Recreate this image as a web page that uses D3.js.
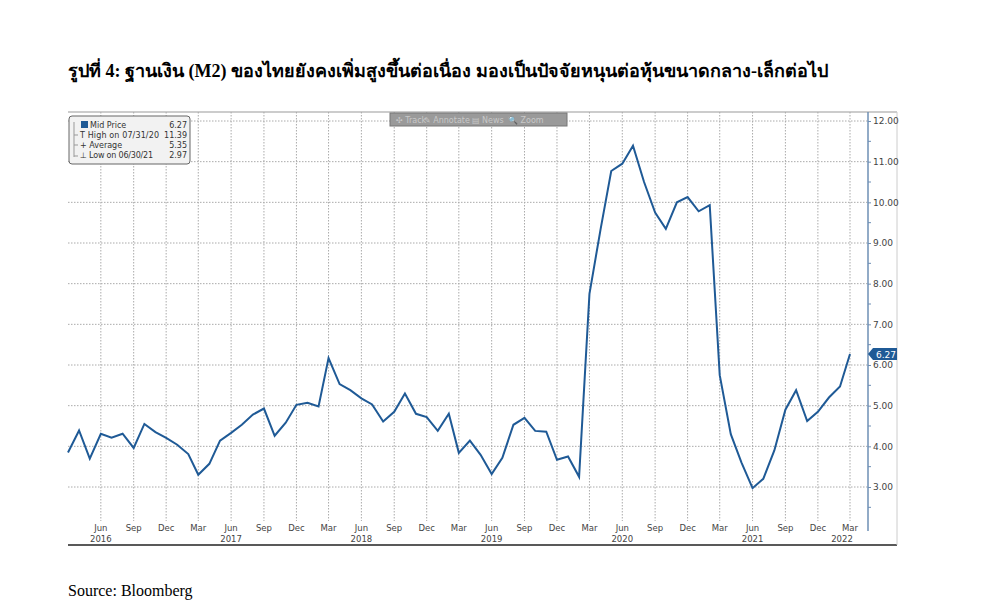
<!DOCTYPE html>
<html><head><meta charset="utf-8">
<script src="https://cdn.jsdelivr.net/npm/d3@7"></script>
<style>body{margin:0;background:#fff}svg{display:block}</style>
</head><body>
<svg id="c" width="998" height="609"></svg>
<script>
const startMonth = "2016-03";
const values = [3.85,4.39,3.70,4.31,4.21,4.31,3.96,4.55,4.35,4.21,4.04,3.81,
3.30,3.57,4.14,4.33,4.53,4.78,4.93,4.26,4.58,5.02,5.07,4.98,
6.17,5.53,5.38,5.18,5.03,4.61,4.85,5.30,4.80,4.72,4.38,4.80,
3.84,4.14,3.79,3.32,3.72,4.53,4.70,4.38,4.36,3.67,3.75,3.25,
7.75,9.33,10.77,10.95,11.39,10.50,9.75,9.35,10.00,10.13,9.78,9.93,
5.75,4.30,3.60,2.97,3.20,3.90,4.90,5.38,4.62,4.85,5.20,5.47,6.27];
const yTicks = [3,4,5,6,7,8,9,10,11,12];
const legendRows = [["Mid Price","6.27"],["High on 07/31/20","11.39"],["Average","5.35"],["Low on 06/30/21","2.97"]];
const toolbar = ["✣ Track","✎ Annotate","▤ News","🔍 Zoom"];
const title = "รูปที่ 4: ฐานเงิน (M2) ของไทยยังคงเพิ่มสูงขึ้นต่อเนื่อง มองเป็นปัจจัยหนุนต่อหุ้นขนาดกลาง-เล็กต่อไป";
const source = "Source: Bloomberg";

const svg = d3.select("#c");
const parse = d3.timeParse("%Y-%m");
const t0 = parse(startMonth);
const data = values.map((v,i)=>({d:d3.timeMonth.offset(t0,i),v}));
const x = d3.scaleTime().domain([t0, d3.timeMonth.offset(t0,72)]).range([68,850]);
const y = d3.scaleLinear().domain([3,12]).range([487,121]);
const L=68,R=868,T=112,B=521;

svg.append("text").attr("x",68).attr("y",77).attr("font-family","Liberation Serif, serif").attr("font-weight","bold").attr("font-size",18).attr("textLength",760).text(title);
svg.append("text").attr("x",68).attr("y",596).attr("font-family","Liberation Serif, serif").attr("font-size",16).text(source);

// frame
svg.append("line").attr("x1",L).attr("x2",897).attr("y1",T).attr("y2",T).attr("stroke","#999");
svg.append("line").attr("x1",L).attr("x2",897).attr("y1",545).attr("y2",545).attr("stroke","#222").attr("stroke-width",1.5);
svg.append("line").attr("x1",897).attr("x2",897).attr("y1",T).attr("y2",545).attr("stroke","#ccc");

// grid
const qMonths = d3.timeMonth.range(d3.timeMonth.offset(t0,1), d3.timeMonth.offset(t0,73)).filter(d=>[2,5,8,11].includes(d.getMonth()));
svg.append("g").selectAll("line").data(qMonths).join("line")
 .attr("x1",d=>x(d)).attr("x2",d=>x(d)).attr("y1",T).attr("y2",B)
 .attr("stroke","#aaa").attr("stroke-dasharray","1.5,1.5");
svg.append("g").selectAll("line").data(yTicks).join("line")
 .attr("x1",L).attr("x2",R).attr("y1",d=>y(d)).attr("y2",d=>y(d))
 .attr("stroke","#aaa").attr("stroke-dasharray","1.5,1.5");

// right axis
const ax = svg.append("g").attr("transform",`translate(${R},0)`)
 .call(d3.axisRight(y).tickValues(yTicks).tickFormat(d3.format(".2f")).tickSize(3));
ax.select(".domain").attr("d",`M0,${T}V${B+10}`).attr("stroke","#6e8fb5").attr("stroke-width",1.5);
ax.selectAll("text").attr("font-family","Tahoma, DejaVu Sans, sans-serif").attr("font-size",9).attr("fill","#444").attr("x",5);
ax.selectAll("line").attr("stroke","#6e8fb5");
svg.append("g").selectAll("line").data(d3.range(2.5,12.5,1)).join("line")
 .attr("x1",R).attr("x2",R+3).attr("y1",d=>y(d)).attr("y2",d=>y(d)).attr("stroke","#6e8fb5");

// x labels
const mf = d3.timeFormat("%b");
svg.append("g").selectAll("text").data(qMonths).join("text")
 .attr("x",d=>x(d)).attr("y",531).attr("text-anchor","middle")
 .attr("font-family","Tahoma, DejaVu Sans, sans-serif").attr("font-size",8.5).attr("fill","#444").text(d=>mf(d));
svg.append("g").selectAll("text").data(qMonths.filter(d=>d.getMonth()===5 || (d.getMonth()===2 && d.getFullYear()===2022))).join("text")
 .attr("x",d=>d.getMonth()===2?x(d)-8:x(d)).attr("y",542).attr("text-anchor","middle")
 .attr("font-family","Tahoma, DejaVu Sans, sans-serif").attr("font-size",8.5).attr("fill","#444").text(d=>d.getFullYear());

// line
svg.append("path").datum(data).attr("fill","none").attr("stroke","#1f5a96").attr("stroke-width",2)
 .attr("d",d3.line().x(d=>x(d.d)).y(d=>y(d.v)));

// last value tag
const lv = values[values.length-1];
svg.append("path").attr("d",`M${R},${y(lv)} l5,-6 h24 v12 h-24 z`).attr("fill","#1f5a96");
svg.append("text").attr("x",R+8).attr("y",y(lv)+3.5).attr("fill","#fff").attr("font-family","Tahoma, DejaVu Sans, sans-serif").attr("font-size",9).text(d3.format(".2f")(lv));

// toolbar
svg.append("rect").attr("x",390).attr("y",113).attr("width",177).attr("height",13).attr("fill","#9a9a9a").attr("stroke","#777");
svg.append("g").selectAll("text").data(toolbar).join("text")
 .attr("x",(d,i)=>[396,424,472,508][i]).attr("y",123).attr("font-family","Tahoma, DejaVu Sans, sans-serif").attr("font-size",8).attr("fill","#c8c8c8").text(d=>d);

// legend
svg.append("rect").attr("x",69).attr("y",116).attr("width",121).attr("height",48).attr("rx",3).attr("fill","#f2f2f2").attr("stroke","#666");
svg.append("rect").attr("x",81).attr("y",121).attr("width",7).attr("height",7).attr("fill","#1f5a96");
const lg = svg.append("g").attr("font-family","Tahoma, DejaVu Sans, sans-serif").attr("font-size",8).attr("fill","#333");
lg.selectAll(".n").data(legendRows).join("text").attr("x",(d,i)=>i?80:90).attr("y",(d,i)=>128+i*10).attr("textLength",(d,i)=>i===1?79:i===3?73:null).text((d,i)=>(["","T ","+ ","⊥ "][i])+d[0]);
lg.selectAll(".v").data(legendRows).join("text").attr("x",187).attr("y",(d,i)=>128+i*10).attr("text-anchor","end").text(d=>d[1]);
svg.append("path").attr("d","M74,122 V157 M74,135h4 M74,145h4 M74,156h4").attr("stroke","#999").attr("fill","none");
</script>
</body></html>
